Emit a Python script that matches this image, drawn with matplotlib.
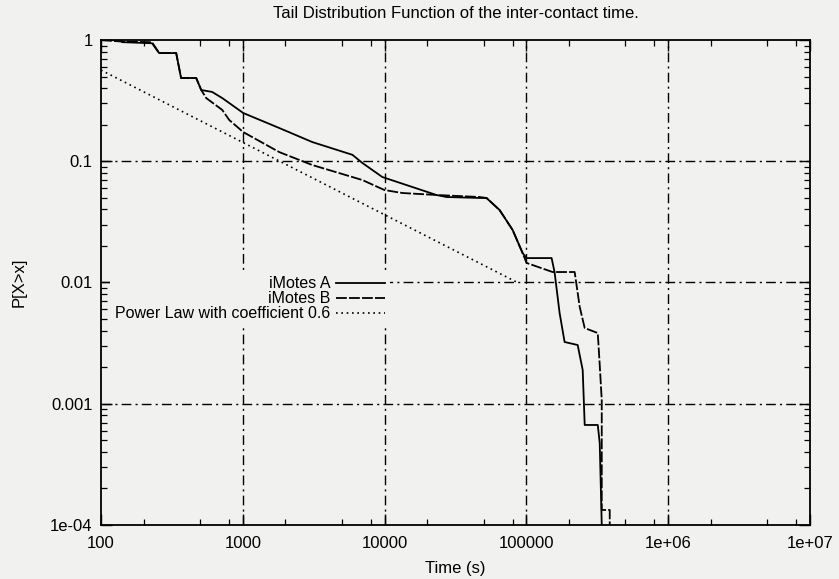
import numpy as np
import matplotlib
matplotlib.use('Agg')
import matplotlib.pyplot as plt
from matplotlib.ticker import FixedLocator, FixedFormatter, LogLocator, NullFormatter

plt.rcParams['font.family'] = ['Liberation Sans', 'DejaVu Sans']

# iMotes A (upper curve in the middle range)
a_x = [100, 141, 141, 229, 257, 339, 367, 469, 509, 608, 716, 1007, 1807, 3090,
       5930, 6970, 9640, 15710, 23200, 27300, 46700, 52300, 64700, 80000, 94000,
       100300, 150600, 158000, 171500, 186000, 230000, 249500, 257800, 318700,
       329000, 340000]
a_y = [1.0, 1.0, 0.96, 0.94, 0.78, 0.78, 0.486, 0.486, 0.387, 0.373, 0.332, 0.250,
       0.188, 0.144, 0.113, 0.0968, 0.0741, 0.0613, 0.0527, 0.0507, 0.0498, 0.0498,
       0.0396, 0.0271, 0.0175, 0.0159, 0.0159, 0.0122, 0.00560, 0.00323, 0.00305,
       0.00190, 0.000668, 0.000668, 0.000475, 0.0001]

# iMotes B (lower curve in the middle range)
b_x = [100, 141, 229, 257, 339, 367, 469, 509, 552, 716, 802, 1007, 1807, 3090,
       6970, 9970, 13370, 23200, 46700, 52300, 64700, 80000, 94000, 100300, 153000,
       219000, 237700, 257800, 318700, 329000, 340000, 340000, 387000, 387000]
b_y = [1.0, 0.97, 0.96, 0.78, 0.78, 0.486, 0.486, 0.387, 0.332, 0.265, 0.219, 0.174,
       0.119, 0.0931, 0.070, 0.0579, 0.0547, 0.0527, 0.0507, 0.0498, 0.0396, 0.0271,
       0.0175, 0.0145, 0.0122, 0.0122, 0.00629, 0.00421, 0.00383, 0.00209, 0.00107,
       0.000133, 0.000133, 0.0001]

# power law reference line (straight on log-log)
pl_x = [100, 85000]
pl_y = [0.565, 0.0101]

x_ticks = [1e2, 1e3, 1e4, 1e5, 1e6, 1e7]
x_labels = ['100', '1000', '10000', '100000', '1e+06', '1e+07']
y_ticks = [1e-4, 1e-3, 1e-2, 1e-1, 1]
y_labels = ['1e-04', '0.001', '0.01', '0.1', '1']

bg = '#f1f1ef'
fig = plt.figure(figsize=(8.39, 5.79), dpi=100, facecolor=bg)
ax = fig.add_axes([0.1204, 0.0933, 0.8450, 0.8376])
ax.set_facecolor(bg)

ax.plot(a_x, a_y, color='black', lw=1.3, label='iMotes A')
ax.plot(b_x, b_y, color='black', lw=1.3, dashes=(6, 1.2), label='iMotes B')
ax.plot(pl_x, pl_y, color='black', lw=1.2, linestyle=(0, (1, 2.2)),
        label='Power Law with coefficient 0.6')

ax.set_xscale('log')
ax.set_yscale('log')
ax.set_xlim(1e2, 1e7)
ax.set_ylim(1e-4, 1)

ax.xaxis.set_major_locator(FixedLocator(x_ticks))
ax.xaxis.set_major_formatter(FixedFormatter(x_labels))
ax.yaxis.set_major_locator(FixedLocator(y_ticks))
ax.yaxis.set_major_formatter(FixedFormatter(y_labels))
ax.xaxis.set_minor_locator(LogLocator(base=10, subs=[2, 5, 8]))
ax.yaxis.set_minor_locator(LogLocator(base=10, subs=np.arange(2, 10)))
ax.xaxis.set_minor_formatter(NullFormatter())
ax.yaxis.set_minor_formatter(NullFormatter())

ax.tick_params(which='both', direction='in', top=True, right=True,
               labelsize=12, color='black')
ax.tick_params(which='major', length=8, width=1.0, pad=6)
ax.tick_params(axis='x', which='major', pad=8)
ax.tick_params(which='minor', length=4, width=0.9)

grid_ls = (0, (7, 3, 1.5, 3))
for v in x_ticks[1:-1]:
    ax.axvline(v, color='black', lw=1.0, linestyle=grid_ls, zorder=1)
for v in y_ticks[1:-1]:
    ax.axhline(v, color='black', lw=1.0, linestyle=grid_ls, zorder=1)

for s in ax.spines.values():
    s.set_linewidth(1.3)

ax.set_title('Tail Distribution Function of the inter-contact time.',
             fontsize=12, pad=16)
ax.set_xlabel('Time (s)', fontsize=12, labelpad=7)
ax.set_ylabel('P[X>x]', fontsize=12)
ax.yaxis.set_label_coords(-0.105, 0.5)

leg = ax.legend(loc='center right', bbox_to_anchor=(0.4076, 0.466), frameon=True,
                markerfirst=False, fontsize=11.5, handlelength=3.1,
                labelspacing=0.0, handletextpad=0.35, borderpad=0.3,
                borderaxespad=0, fancybox=False)
leg.get_frame().set_facecolor(bg)
leg.get_frame().set_edgecolor('none')
leg.get_frame().set_alpha(1)
leg.set_zorder(5)

fig.savefig('out.png', dpi=100, facecolor=bg)
